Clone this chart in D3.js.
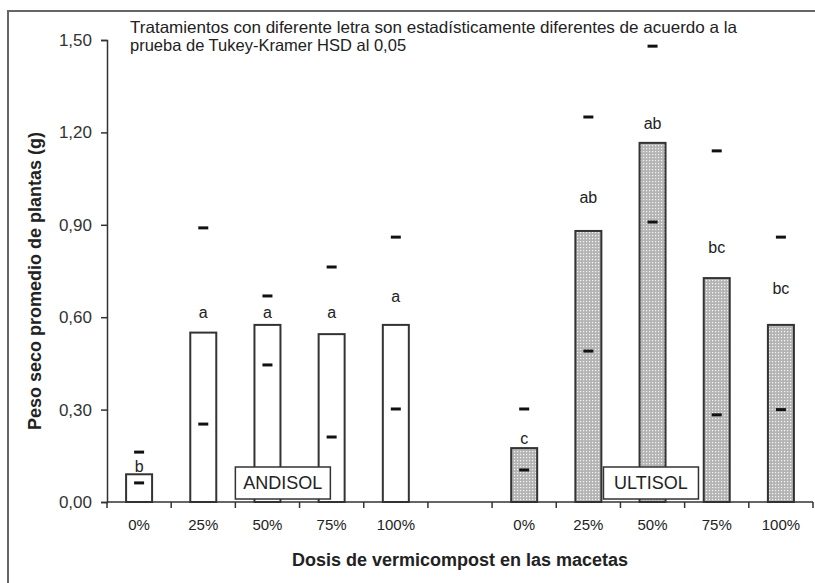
<!DOCTYPE html>
<meta charset="utf-8">
<style>
body { margin: 0; background: white; }
text { font-family: "Liberation Sans", Arial, sans-serif; fill: #222; }
</style>
<body>
<script src="https://d3js.org/d3.v7.min.js"></script>
<script>
var width = 815,
    height = 583;

// data
var dosis = ["0%", "25%", "50%", "75%", "100%"];
var andisolMedia = [0.09, 0.55, 0.575, 0.545, 0.575];
var andisolSup = [0.162, 0.89, 0.669, 0.763, 0.86];
var andisolInf = [0.062, 0.253, 0.445, 0.211, 0.302];
var andisolLetra = ["b", "a", "a", "a", "a"];
var andisolLetraY = [0.114, 0.614, 0.614, 0.614, 0.666];
var ultisolMedia = [0.175, 0.88, 1.166, 0.727, 0.575];
var ultisolSup = [0.302, 1.25, 1.48, 1.14, 0.86];
var ultisolInf = [0.104, 0.49, 0.909, 0.283, 0.30];
var ultisolLetra = ["c", "ab", "ab", "bc", "bc"];
var ultisolLetraY = [0.208, 0.99, 1.23, 0.828, 0.692];
var yTicks = [0, 0.3, 0.6, 0.9, 1.2, 1.5];

var rows = [];
dosis.forEach(function(d, i) {
  rows.push({key: "A" + i, dosis: d, suelo: "ANDISOL", media: andisolMedia[i],
    sup: andisolSup[i], inf: andisolInf[i], letra: andisolLetra[i], ly: andisolLetraY[i]});
});
var slots = rows.map(function(r) { return r.key; }).concat(["gap"]);
dosis.forEach(function(d, i) {
  rows.push({key: "U" + i, dosis: d, suelo: "ULTISOL", media: ultisolMedia[i],
    sup: ultisolSup[i], inf: ultisolInf[i], letra: ultisolLetra[i], ly: ultisolLetraY[i]});
  slots.push("U" + i);
});

var svg = d3.select("body").append("svg")
    .attr("width", width)
    .attr("height", height);

var defs = svg.append("defs");
var pat = defs.append("pattern")
    .attr("id", "puntos")
    .attr("patternUnits", "userSpaceOnUse")
    .attr("width", 3)
    .attr("height", 3);
pat.append("rect").attr("width", 3).attr("height", 3).style("fill", "#b4b4b4");
pat.append("rect").attr("x", 1).attr("y", 1).attr("width", 1.2).attr("height", 1.2).style("fill", "#f4f4f4");

// frame
svg.append("rect")
    .attr("x", 8).attr("y", 11)
    .attr("width", 840).attr("height", 620)
    .style("fill", "none")
    .style("stroke", "#666")
    .style("stroke-width", 2);

var x = d3.scaleBand()
    .domain(slots)
    .range([107, 813])
    .padding(0);

var y = d3.scaleLinear()
    .domain([0, 1.5])
    .range([502, 40]);

var barW = 26;

// y axis
var yAxis = svg.append("g")
    .attr("transform", "translate(107,0)")
    .call(d3.axisLeft(y).tickValues(yTicks).tickSize(6).tickPadding(9)
      .tickFormat(function(d) { return d3.format(".2f")(d).replace(".", ","); }));
yAxis.select(".domain").style("stroke", "#333").style("stroke-width", 1.5);
yAxis.selectAll(".tick line").style("stroke", "#333").style("stroke-width", 1.5);
yAxis.selectAll("text").style("font-size", "17px").style("fill", "#333")
    .style("font-family", "'Liberation Sans', Arial, sans-serif");

// bars
svg.append("g").selectAll("rect")
    .data(rows)
    .enter().append("rect")
      .attr("x", function(d) { return x(d.key) + x.bandwidth() / 2 - barW / 2; })
      .attr("y", function(d) { return y(d.media); })
      .attr("width", barW)
      .attr("height", function(d) { return y(0) - y(d.media); })
      .style("fill", function(d) { return d.suelo == "ULTISOL" ? "url(#puntos)" : "white"; })
      .style("stroke", "#333")
      .style("stroke-width", 2);

// x axis
var xAxis = svg.append("g")
    .attr("transform", "translate(0,502)");
xAxis.append("line")
    .attr("x1", 107).attr("x2", 813)
    .style("stroke", "#333").style("stroke-width", 1.5);
xAxis.selectAll(".tk")
    .data(slots.concat(["end"]))
    .enter().append("line")
      .attr("class", "tk")
      .attr("x1", function(d) { return d == "end" ? 813 : x(d); })
      .attr("x2", function(d) { return d == "end" ? 813 : x(d); })
      .attr("y1", 0).attr("y2", 6)
      .style("stroke", "#333").style("stroke-width", 1.5);
xAxis.selectAll(".lbl")
    .data(rows)
    .enter().append("text")
      .attr("x", function(d) { return x(d.key) + x.bandwidth() / 2; })
      .attr("y", 28)
      .attr("text-anchor", "middle")
      .style("font-size", "15px")
      .style("font-weight", "500")
      .text(function(d) { return d.dosis; });

// dash marks (upper and lower)
var dashes = [];
rows.forEach(function(r) {
  dashes.push({key: r.key, v: r.sup});
  dashes.push({key: r.key, v: r.inf});
});
svg.append("g").selectAll("line")
    .data(dashes)
    .enter().append("line")
      .attr("x1", function(d) { return x(d.key) + x.bandwidth() / 2 - 5; })
      .attr("x2", function(d) { return x(d.key) + x.bandwidth() / 2 + 5; })
      .attr("y1", function(d) { return y(d.v); })
      .attr("y2", function(d) { return y(d.v); })
      .style("stroke", "#111")
      .style("stroke-width", 3);

// letters
svg.append("g").selectAll("text")
    .data(rows)
    .enter().append("text")
      .attr("x", function(d) { return x(d.key) + x.bandwidth() / 2; })
      .attr("y", function(d) { return y(d.ly); })
      .attr("dy", "0.35em")
      .attr("text-anchor", "middle")
      .style("font-size", "16px")
      .text(function(d) { return d.letra; });

// soil boxes
var suelos = [
  {nombre: "ANDISOL", desde: "A2", corr: 0},
  {nombre: "ULTISOL", desde: "U2", corr: -17}
];
var boxes = svg.append("g").selectAll("g")
    .data(suelos)
    .enter().append("g");
boxes.append("rect")
    .attr("x", function(d) { return x(d.desde) + d.corr; })
    .attr("y", 467)
    .attr("width", 95)
    .attr("height", 32)
    .style("fill", "white")
    .style("stroke", "#333")
    .style("stroke-width", 1.5);
boxes.append("text")
    .attr("x", function(d) { return x(d.desde) + d.corr + 47.5; })
    .attr("y", 483)
    .attr("dy", "0.35em")
    .attr("text-anchor", "middle")
    .style("font-size", "18px")
    .text(function(d) { return d.nombre; });

// note
var nota = svg.append("text")
    .attr("x", 130)
    .attr("y", 33)
    .style("font-size", "16.5px");
nota.append("tspan").attr("x", 130)
    .attr("textLength", 607).attr("lengthAdjust", "spacingAndGlyphs")
    .text("Tratamientos con diferente letra son estadísticamente diferentes de acuerdo a la");
nota.append("tspan").attr("x", 130).attr("dy", 18).text("prueba de Tukey-Kramer HSD al 0,05");

// axis titles
svg.append("text")
    .attr("transform", "translate(41,281) rotate(-90)")
    .attr("text-anchor", "middle")
    .style("font-size", "18px")
    .style("font-weight", "bold")
    .text("Peso seco promedio de plantas (g)");

svg.append("text")
    .attr("x", 460)
    .attr("y", 566)
    .attr("text-anchor", "middle")
    .style("font-size", "18px")
    .style("font-weight", "bold")
    .text("Dosis de vermicompost en las macetas");
</script>
</body>
</html>
